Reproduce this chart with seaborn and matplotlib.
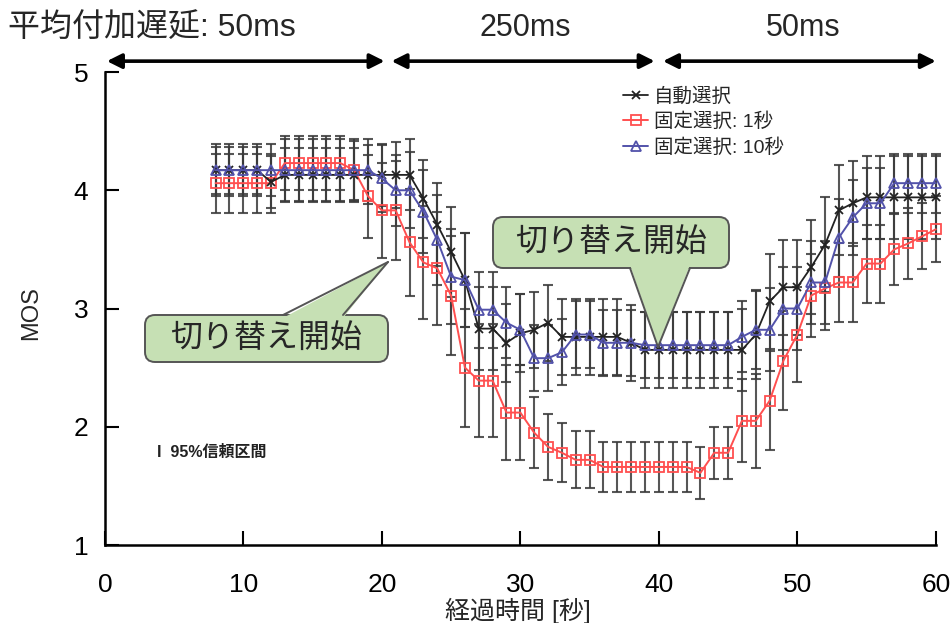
import numpy as np
import pandas as pd
import matplotlib.pyplot as plt
import seaborn as sns
from matplotlib.patches import FancyBboxPatch, Polygon

# ============================
# DATA
# ============================
t = list(range(8, 61))

auto_sel = [4.17, 4.17, 4.17, 4.17, 4.07, 4.13, 4.13, 4.13, 4.13, 4.13,
            4.13, 4.13, 4.13, 4.13, 4.13, 3.93, 3.71, 3.48, 3.24, 2.83,
            2.83, 2.71, 2.79, 2.82, 2.88, 2.76, 2.76, 2.76, 2.76, 2.76,
            2.71, 2.65, 2.65, 2.65, 2.65, 2.65, 2.65, 2.65, 2.65, 2.78,
            3.06, 3.18, 3.18, 3.35, 3.54, 3.83, 3.89, 3.94, 3.94, 3.94,
            3.94, 3.94, 3.94]
fix_1s = [4.06, 4.06, 4.06, 4.06, 4.06, 4.23, 4.23, 4.23, 4.23, 4.23,
          4.17, 3.95, 3.83, 3.83, 3.56, 3.39, 3.34, 3.11, 2.50, 2.39,
          2.39, 2.12, 2.12, 1.95, 1.83, 1.78, 1.72, 1.72, 1.66, 1.66,
          1.66, 1.66, 1.66, 1.66, 1.66, 1.61, 1.78, 1.78, 2.05, 2.05,
          2.22, 2.56, 2.78, 3.11, 3.17, 3.22, 3.22, 3.38, 3.38, 3.50,
          3.55, 3.61, 3.67]
fix_10s = [4.17, 4.17, 4.17, 4.17, 4.17, 4.17, 4.17, 4.17, 4.17, 4.17,
           4.17, 4.17, 4.10, 4.00, 4.00, 3.82, 3.58, 3.27, 3.24, 2.99,
           2.99, 2.88, 2.82, 2.58, 2.58, 2.63, 2.78, 2.78, 2.71, 2.71,
           2.71, 2.69, 2.69, 2.69, 2.69, 2.69, 2.69, 2.69, 2.76, 2.82,
           2.82, 3.00, 3.00, 3.22, 3.22, 3.60, 3.77, 3.89, 3.89, 4.06,
           4.06, 4.06, 4.06]

# 95% confidence half-widths
err_auto = [0.20, 0.20, 0.20, 0.20, 0.22, 0.23, 0.23, 0.23, 0.23, 0.23,
            0.23, 0.25, 0.26, 0.28, 0.30, 0.33, 0.35, 0.38, 0.40, 0.35,
            0.35, 0.33, 0.33, 0.32, 0.32, 0.32, 0.32, 0.32, 0.32, 0.32,
            0.32, 0.32, 0.32, 0.32, 0.32, 0.32, 0.32, 0.32, 0.35, 0.38,
            0.40, 0.40, 0.40, 0.40, 0.40, 0.38, 0.36, 0.35, 0.35, 0.35,
            0.35, 0.35, 0.35]
err_1s = [0.25, 0.25, 0.25, 0.25, 0.25, 0.23, 0.23, 0.23, 0.23, 0.23,
          0.25, 0.35, 0.40, 0.42, 0.45, 0.48, 0.48, 0.50, 0.50, 0.48,
          0.48, 0.40, 0.40, 0.30, 0.28, 0.25, 0.24, 0.24, 0.21, 0.21,
          0.21, 0.21, 0.21, 0.21, 0.21, 0.22, 0.22, 0.22, 0.35, 0.40,
          0.42, 0.42, 0.40, 0.35, 0.35, 0.33, 0.33, 0.33, 0.33, 0.30,
          0.30, 0.28, 0.28]
err_10s = [0.22, 0.22, 0.22, 0.22, 0.22, 0.26, 0.26, 0.26, 0.26, 0.26,
           0.26, 0.26, 0.28, 0.30, 0.32, 0.35, 0.38, 0.40, 0.40, 0.32,
           0.32, 0.30, 0.30, 0.28, 0.28, 0.28, 0.28, 0.28, 0.28, 0.28,
           0.28, 0.28, 0.28, 0.28, 0.28, 0.28, 0.28, 0.28, 0.30, 0.33,
           0.35, 0.35, 0.35, 0.35, 0.35, 0.33, 0.32, 0.30, 0.30, 0.25,
           0.25, 0.25, 0.25]

series_names = ["自動選択", "固定選択: 1秒", "固定選択: 10秒"]
delay_labels = ["平均付加遅延: 50ms", "250ms", "50ms"]
callout_text = "切り替え開始"

# ============================
# STYLE
# ============================
sns.set_theme(style="ticks")
plt.rcParams["font.family"] = ["Liberation Sans", "Noto Sans CJK JP"]
plt.rcParams["axes.unicode_minus"] = False

fig = plt.figure(figsize=(9.53, 6.23), dpi=100)
ax = fig.add_axes([0.110, 0.1252, 0.872, 0.7592])

df = pd.DataFrame({"t": t, "auto": auto_sel, "f1": fix_1s, "f10": fix_10s})

# error bars (behind the lines)
for y, e in [(auto_sel, err_auto), (fix_10s, err_10s), (fix_1s, err_1s)]:
    ax.errorbar(t, y, yerr=e, fmt="none", ecolor="#3a3a3a", elinewidth=1.5,
                capsize=3.5, capthick=1.5, alpha=0.85, zorder=2, clip_on=False)

sns.lineplot(data=df, x="t", y="auto", ax=ax, color="#222222", lw=1.3,
             marker="x", markersize=6, markeredgewidth=1.3,
             markeredgecolor="#222222", label=series_names[0], zorder=4)
sns.lineplot(data=df, x="t", y="f1", ax=ax, color="#ff4f4f", lw=1.4,
             marker="s", markersize=7, markerfacecolor="none",
             markeredgecolor="#ff4f4f", markeredgewidth=1.3,
             label=series_names[1], zorder=3)
sns.lineplot(data=df, x="t", y="f10", ax=ax, color="#5252aa", lw=1.4,
             marker="^", markersize=7, markerfacecolor="none",
             markeredgecolor="#5252aa", markeredgewidth=1.3,
             label=series_names[2], zorder=5)
for ln in ax.lines:
    ln.set_clip_on(False)

ax.set_xlim(0, 60)
ax.set_ylim(1, 5)
ax.set_xticks([0, 10, 20, 30, 40, 50, 60])
ax.set_yticks([1, 2, 3, 4, 5])
ax.tick_params(axis="both", direction="in", length=10, width=1.5,
               colors="black", labelsize=19)
ax.tick_params(axis="x", pad=20)
ax.tick_params(axis="y", pad=12)
for s in ["top", "right"]:
    ax.spines[s].set_visible(False)
for s in ["left", "bottom"]:
    ax.spines[s].set_linewidth(1.8)
    ax.spines[s].set_color("black")

ax.set_xlabel("経過時間 [秒]", fontsize=18)
ax.set_ylabel("MOS", fontsize=17)
ax.xaxis.set_label_coords(0.497, -0.112)
ax.yaxis.set_label_coords(-0.076, 0.49)

leg = ax.legend(loc="upper left", bbox_to_anchor=(0.612, 0.988), frameon=False,
                fontsize=14, handlelength=1.3, handletextpad=0.3,
                labelspacing=0.35, borderpad=0)

ax.text(3.8, 1.786, "I  95%信頼区間", fontsize=11.5, va="center",
        color="#222222", fontweight="bold")

# ============================
# DELAY ARROWS ABOVE THE PLOT
# ============================
trans = ax.get_xaxis_transform()
gaps = [(0.15, 20.2), (20.7, 39.7), (40.3, 60)]
for (a, b) in gaps:
    ax.annotate("", xy=(a, 1.023), xytext=(b, 1.023), xycoords=trans,
                textcoords=trans, annotation_clip=False,
                arrowprops=dict(arrowstyle="<|-|>", color="black", lw=2.6,
                                mutation_scale=22, shrinkA=0, shrinkB=0))
fig.text(0.008, 0.955, delay_labels[0], fontsize=23, ha="left", va="center")
fig.text(0.551, 0.955, delay_labels[1], fontsize=22, ha="center", va="center")
fig.text(0.843, 0.955, delay_labels[2], fontsize=22, ha="center", va="center")


# ============================
# CALLOUTS (pixel layout, origin top-left)
# ============================
def px(x, y):
    return (x / 100.0, (623 - y) / 100.0)


def callout(x0, x1, y0, y1, ba, bb, tip, on_top):
    fill = "#c6e0b4"
    edge = "#555555"
    tr = fig.dpi_scale_trans
    (bx, by) = px(x0, y1)
    w = (x1 - x0) / 100.0
    h = (y1 - y0) / 100.0
    box = FancyBboxPatch((bx, by), w, h, boxstyle="round,pad=0,rounding_size=0.1",
                         transform=tr, fc=fill, ec=edge, lw=1.4, zorder=8)
    fig.add_artist(box)
    yb = y0 if on_top else y1
    inset = 3 if on_top else -3
    tri = Polygon([px(ba, yb + inset), px(bb, yb + inset), px(*tip)],
                  closed=True, transform=tr, fc=fill, ec="none", zorder=9)
    fig.add_artist(tri)
    for xb in (ba, bb):
        p0 = px(xb, yb)
        p1 = px(*tip)
        fig.add_artist(plt.Line2D([p0[0], p1[0]], [p0[1], p1[1]], transform=tr,
                                  color=edge, lw=1.4, zorder=10))
    cx, cy = px((x0 + x1) / 2, (y0 + y1) / 2)
    fig.text(cx / 9.53, cy / 6.23, callout_text, fontsize=23, ha="center",
             va="center", zorder=11)


callout(145, 388, 315, 362, 283, 343, (388, 262), True)
callout(493, 729, 217, 268, 630, 690, (658, 347), False)

fig.savefig("out.png", dpi=100)
